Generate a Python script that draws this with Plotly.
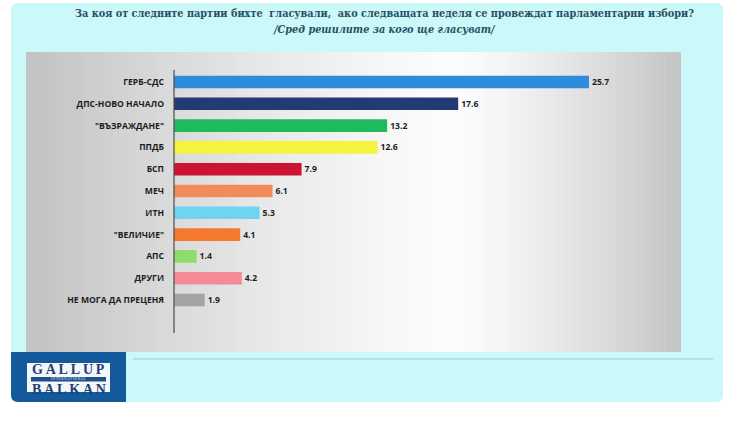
import plotly.graph_objects as go

# Poll results (% among decided voters)
parties = [
    "ГЕРБ-СДС", "ДПС-НОВО НАЧАЛО", "\"ВЪЗРАЖДАНЕ\"", "ППДБ", "БСП", "МЕЧ",
    "ИТН", "\"ВЕЛИЧИЕ\"", "АПС", "ДРУГИ", "НЕ МОГА ДА ПРЕЦЕНЯ",
]
shares = [25.7, 17.6, 13.2, 12.6, 7.9, 6.1, 5.3, 4.1, 1.4, 4.2, 1.9]
bar_colors = [
    "#2f8cdc", "#233a72", "#1fba5c", "#f4f43e", "#cc1331", "#f08b5a",
    "#6fd4f1", "#f5792f", "#8fdc6c", "#f48a95", "#a4a4a4",
]

title_line1 = "За коя от следните партии бихте  гласували,  ако следващата неделя се провеждат парламентарни избори?"
title_line2 = "/Сред решилите за кого ще гласуват/"

W, H = 732, 428


def px(x):
    return x / W


def py(y):
    return 1 - y / H


shapes = []

# light cyan rounded panel
x0, y0, x1, y1, r = 11, 3, 723, 402, 7
shapes.append(dict(
    type="path", xref="paper", yref="paper", layer="below",
    path=(f"M {px(x0 + r)} {py(y0)} L {px(x1 - r)} {py(y0)} "
          f"Q {px(x1)} {py(y0)} {px(x1)} {py(y0 + r)} "
          f"L {px(x1)} {py(y1 - r)} Q {px(x1)} {py(y1)} {px(x1 - r)} {py(y1)} "
          f"L {px(x0 + r)} {py(y1)} Q {px(x0)} {py(y1)} {px(x0)} {py(y1 - r)} "
          f"L {px(x0)} {py(y0 + r)} Q {px(x0)} {py(y0)} {px(x0 + r)} {py(y0)} Z"),
    fillcolor="#cbf8f8", line=dict(width=0),
))

# grey-to-white horizontal gradient behind the plot, built from thin strips
gx0, gx1, gy0, gy1 = 26, 681, 52, 352
peak = 455
n = 90
for i in range(n):
    a = gx0 + (gx1 - gx0) * i / n
    b = gx0 + (gx1 - gx0) * (i + 1) / n + 0.6
    mid = (a + b) / 2
    if mid < peak:
        t = (peak - mid) / (peak - gx0)
        lo = 194
    else:
        t = (mid - peak) / (gx1 - peak)
        lo = 196
    t = t ** 1.3
    v = int(round(252 - (252 - lo) * t))
    shapes.append(dict(
        type="rect", xref="paper", yref="paper", layer="below",
        x0=px(a), x1=px(min(b, gx1)), y0=py(gy1), y1=py(gy0),
        fillcolor=f"rgb({v},{v},{v})", line=dict(width=0),
    ))

# footer rule
shapes.append(dict(
    type="line", xref="paper", yref="paper",
    x0=px(133), x1=px(713), y0=py(359), y1=py(359),
    line=dict(color="#a9dede", width=1.5),
))

# logo block
shapes.append(dict(
    type="path", xref="paper", yref="paper",
    path=(f"M {px(11)} {py(352)} L {px(126)} {py(352)} L {px(126)} {py(402)} "
          f"L {px(18)} {py(402)} Q {px(11)} {py(402)} {px(11)} {py(395)} Z"),
    fillcolor="#135a9c", line=dict(width=0),
))
shapes.append(dict(
    type="rect", xref="paper", yref="paper",
    x0=px(27), x1=px(110), y0=py(392), y1=py(363),
    fillcolor="#f4f7fa", line=dict(width=0),
))
shapes.append(dict(
    type="rect", xref="paper", yref="paper",
    x0=px(31), x1=px(106), y0=py(381.5), y1=py(377),
    fillcolor="#1d4f8a", line=dict(width=0),
))

# vertical axis line extending below the last bar
axis_x = 174
shapes.append(dict(
    type="line", xref="paper", yref="paper",
    x0=px(axis_x), x1=px(axis_x), y0=py(333), y1=py(70),
    line=dict(color="#4a4a4a", width=1.2),
))

fig = go.Figure(go.Bar(
    x=shares, y=parties, orientation="h",
    marker=dict(color=bar_colors, line=dict(width=0)),
    text=shares, texttemplate="%{x:.1f}", textposition="outside",
    textfont=dict(family="Open Sans", size=8.6, color="#1e1e1e", weight="bold"),
    cliponaxis=False,
))

scale = (589 - axis_x) / 25.7
x_max = 30
first_c, step = 82, 21.8
top_px = first_c - step / 2
bot_px = first_c + step * 10 + step / 2

thin = "\u2009"
logo_top = thin.join("GALLUP")
logo_bottom = thin.join("BALKAN")
title_font = dict(family="DejaVu Serif Condensed", size=10.8, color="#284f62")

annotations = [
    dict(text=f"<b>{title_line1}</b>", x=px(384), y=py(13.5), xref="paper", yref="paper",
         showarrow=False, xanchor="center", yanchor="middle", font=title_font),
    dict(text=f"<b><i>{title_line2}</i></b>", x=px(384), y=py(29), xref="paper", yref="paper",
         showarrow=False, xanchor="center", yanchor="middle", font=title_font),
    dict(text=f"<b>{logo_top}</b>", x=px(68.5), y=py(377.5), xref="paper", yref="paper",
         showarrow=False, xanchor="center", yanchor="bottom", borderpad=0,
         font=dict(family="Liberation Serif", size=14, color="#1d3f73")),
    dict(text="I N T E R N A T I O N A L", x=px(68.5), y=py(379.2), xref="paper", yref="paper",
         showarrow=False, xanchor="center", yanchor="middle", borderpad=0,
         font=dict(family="Liberation Serif", size=3.2, color="#ffffff")),
    dict(text=f"<b>{logo_bottom}</b>", x=px(68.5), y=py(381), xref="paper", yref="paper",
         showarrow=False, xanchor="center", yanchor="top", borderpad=0,
         font=dict(family="Liberation Serif", size=14, color="#1d3f73")),
]

fig.update_layout(
    width=W, height=H,
    margin=dict(l=0, r=0, t=0, b=0),
    paper_bgcolor="#ffffff", plot_bgcolor="rgba(0,0,0,0)",
    showlegend=False,
    bargap=0.42,
    shapes=shapes,
    annotations=annotations,
    xaxis=dict(
        domain=[px(axis_x), px(axis_x + x_max * scale)],
        range=[0, x_max], visible=False, fixedrange=True,
    ),
    yaxis=dict(
        domain=[py(bot_px), py(top_px)],
        range=[10.5, -0.5], type="category",
        showgrid=False, zeroline=False, showline=False,
        ticks="", ticklabelstandoff=9,
        tickfont=dict(family="Open Sans", size=8.6, color="#1e1e1e", weight="bold"),
    ),
)

fig.write_html("out.html")
